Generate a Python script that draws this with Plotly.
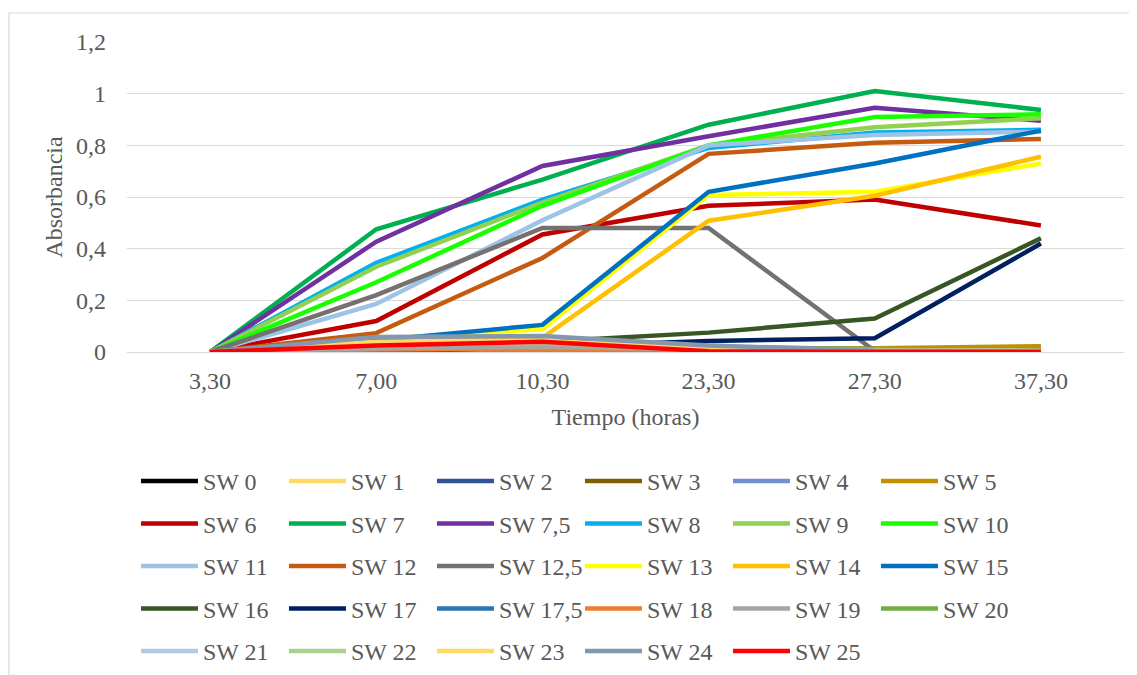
import plotly.graph_objects as go

categories = ["3,30", "7,00", "10,30", "23,30", "27,30", "37,30"]

series_names = ["SW 0", "SW 1", "SW 2", "SW 3", "SW 4", "SW 5", "SW 6", "SW 7", "SW 7,5",
                "SW 8", "SW 9", "SW 10", "SW 11", "SW 12", "SW 12,5", "SW 13", "SW 14",
                "SW 15", "SW 16", "SW 17", "SW 17,5", "SW 18", "SW 19", "SW 20", "SW 21",
                "SW 22", "SW 23", "SW 24", "SW 25"]

sw0 = [0, 0.02, 0.03, 0.003, 0, 0]
sw1 = [0, 0.035, 0.045, 0.01, 0.005, 0.003]
sw2 = [0, 0.01, 0.02, 0.005, 0.003, 0.003]
sw3 = [0, 0.005, 0.01, 0.005, 0.005, 0.005]
sw4 = [0, 0.002, 0.005, 0.003, 0.002, 0.002]
sw5 = [0, 0.003, 0.006, 0.01, 0.015, 0.022]
sw6 = [0, 0.12, 0.455, 0.566, 0.59, 0.49]
sw7 = [0, 0.475, 0.667, 0.88, 1.01, 0.937]
sw7_5 = [0, 0.427, 0.72, 0.835, 0.945, 0.895]
sw8 = [0, 0.345, 0.59, 0.79, 0.85, 0.86]
sw9 = [0, 0.33, 0.578, 0.80, 0.87, 0.905]
sw10 = [0, 0.27, 0.566, 0.80, 0.91, 0.92]
sw11 = [0, 0.186, 0.51, 0.80, 0.84, 0.853]
sw12 = [0, 0.073, 0.364, 0.767, 0.81, 0.825]
sw12_5 = [0, 0.22, 0.48, 0.48, 0.004, 0.0]
sw13 = [0, 0.05, 0.088, 0.608, 0.62, 0.73]
sw14 = [0, 0.045, 0.055, 0.508, 0.605, 0.756]
sw15 = [0, 0.045, 0.105, 0.62, 0.73, 0.857]
sw16 = [0, 0.02, 0.04, 0.075, 0.13, 0.44]
sw17 = [0, 0.0, 0.02, 0.043, 0.053, 0.42]
sw17_5 = [0, 0.01, 0.015, 0.01, 0.005, 0.003]
sw18 = [0, 0.01, 0.012, 0.008, 0.005, 0.003]
sw19 = [0, 0.015, 0.02, 0.01, 0.006, 0.004]
sw20 = [0, 0.03, 0.035, 0.02, 0.012, 0.005]
sw21 = [0, 0.035, 0.04, 0.012, 0.006, 0.003]
sw22 = [0, 0.03, 0.035, 0.015, 0.008, 0.004]
sw23 = [0, 0.04, 0.045, 0.012, 0.006, 0.003]
sw24 = [0, 0.058, 0.062, 0.025, 0.006, 0.002]
sw25 = [0, 0.025, 0.04, 0.003, 0.0, 0.0]

series_values = [sw0, sw1, sw2, sw3, sw4, sw5, sw6, sw7, sw7_5, sw8, sw9, sw10, sw11, sw12,
                 sw12_5, sw13, sw14, sw15, sw16, sw17, sw17_5, sw18, sw19, sw20, sw21, sw22,
                 sw23, sw24, sw25]

colors = ["#000000", "#FFD966", "#2F5597", "#7F6000", "#6F8FD0", "#BF9000", "#C00000",
          "#00B050", "#7030A0", "#00B0F0", "#92D050", "#1AFF00", "#9DC3E6", "#C55A11",
          "#767171", "#FFFF00", "#FFC000", "#0070C0", "#375623", "#002060", "#2E75B6",
          "#ED7D31", "#A5A5A5", "#70AD47", "#B4C7E7", "#A9D18E", "#FFD966", "#8497B0",
          "#FF0000"]

FONT = "'Liberation Serif', 'Times New Roman', 'DejaVu Serif', serif"
TXT = "#595959"
FS = 24

fig = go.Figure()
for i, (name, vals, col) in enumerate(zip(series_names, series_values, colors)):
    fig.add_trace(go.Scatter(x=categories, y=vals, name=name, mode="lines",
                             legendgroup="g%d" % i,
                             line=dict(color=col, width=4.5)))

fig.update_layout(
    width=1129, height=667,
    margin=dict(l=119, r=13, t=34, b=323, autoexpand=False),
    paper_bgcolor="white", plot_bgcolor="white",
    separators=", ",
    font=dict(family=FONT, color=TXT, size=FS),
    showlegend=True,
    legend=dict(orientation="h", x=0.009, xanchor="left", y=-0.345, yanchor="top",
                entrywidth=76, entrywidthmode="pixels", itemwidth=57,
                tracegroupgap=8.3,
                font=dict(family=FONT, size=FS, color=TXT), traceorder="grouped",
                itemclick=False, itemdoubleclick=False),
    xaxis=dict(type="category", range=[-0.5, 5.5], showgrid=False, showline=False,
               zeroline=False, ticks="", tickfont=dict(family=FONT, size=FS, color=TXT),
               ticklabelstandoff=12,
               title=dict(text="Tiempo (horas)", font=dict(family=FONT, size=FS, color=TXT),
                          standoff=15)),
    yaxis=dict(range=[0, 1.2], dtick=0.2, showgrid=True, gridcolor="#D9D9D9", gridwidth=1.3,
               zeroline=True, zerolinecolor="#D9D9D9", zerolinewidth=1.3,
               showline=False, ticks="", tickfont=dict(family=FONT, size=FS, color=TXT),
               ticklabelstandoff=20,
               title=dict(text="Absorbancia", font=dict(family=FONT, size=FS, color=TXT),
                          standoff=6)),
)

fig.add_shape(type="rect", xref="paper", yref="paper", x0=-0.1184, x1=1.05, y0=-1.3, y1=1.0935,
              line=dict(color="#D9D9D9", width=1.2), fillcolor="rgba(0,0,0,0)", layer="below")

fig.write_html("out.html")
